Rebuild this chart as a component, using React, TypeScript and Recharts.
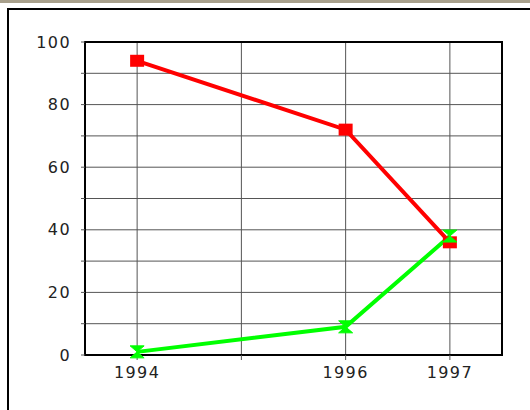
import { LineChart, Line, XAxis, YAxis, CartesianGrid, ReferenceArea } from "recharts";

const years = [1994, 1996, 1997];
const redValues = [94, 72, 36];
const greenValues = [1, 9, 38];
const xTicks = [1994, 1995, 1996, 1997];
const yTicks = [0, 10, 20, 30, 40, 50, 60, 70, 80, 90, 100];

const data = years.map((year, i) => ({
  year,
  red: redValues[i],
  green: greenValues[i],
}));

const font = "'DejaVu Sans', Arial, sans-serif";
const tickStyle = { fill: "#222", fontSize: 16, fontFamily: font, letterSpacing: 1.4 };

function SquareDot(props: any) {
  const { cx, cy } = props;
  if (cx == null || cy == null) return null;
  return <rect x={cx - 7} y={cy - 6} width={14} height={12} fill="#ff0000" />;
}

function HourglassDot(props: any) {
  const { cx, cy } = props;
  if (cx == null || cy == null) return null;
  const w = 7;
  const h = 6;
  return (
    <path
      d={`M${cx - w},${cy - h} L${cx + w},${cy - h} L${cx},${cy} Z M${cx - w},${cy + h} L${cx + w},${cy + h} L${cx},${cy} Z`}
      fill="#00ff00"
      stroke="#00ff00"
      strokeWidth={1}
    />
  );
}

export default function App() {
  return (
    <div
      style={{
        position: "absolute",
        left: 0,
        top: 0,
        width: 530,
        height: 410,
        background: "#fff",
        overflow: "hidden",
      }}
    >
      <div style={{ position: "absolute", left: 0, top: 0, width: 530, height: 3, background: "#a8a08c" }} />
      <div
        style={{
          position: "absolute",
          left: 7,
          top: 8,
          width: 540,
          height: 420,
          borderTop: "2px solid #000",
          borderLeft: "2px solid #000",
        }}
      />
      <LineChart
        width={530}
        height={410}
        data={data}
        margin={{ top: 42, right: 28, bottom: 0, left: 0 }}
        style={{ position: "absolute", left: 0, top: 0, fontFamily: font }}
      >
        <CartesianGrid stroke="#555" strokeWidth={1} horizontalValues={yTicks} verticalValues={xTicks} />
        <XAxis
          dataKey="year"
          type="number"
          domain={[1993.5, 1997.5]}
          ticks={xTicks}
          tickFormatter={(v: number) => (v === 1995 ? "" : String(v))}
          height={55}
          axisLine={{ stroke: "#000", strokeWidth: 2 }}
          tickLine={{ stroke: "#555" }}
          tickSize={5}
          tickMargin={7}
          tick={tickStyle}
        />
        <YAxis
          type="number"
          domain={[0, 100]}
          ticks={yTicks}
          tickFormatter={(v: number) => (v % 20 === 0 ? String(v) : "")}
          width={85}
          axisLine={{ stroke: "#000", strokeWidth: 2 }}
          tickLine={{ stroke: "#555" }}
          tickSize={4}
          tickMargin={10}
          interval={0}
          tick={tickStyle}
        />
        <ReferenceArea
          x1={1993.5}
          x2={1997.5}
          y1={0}
          y2={100}
          fill="none"
          fillOpacity={0}
          stroke="#000"
          strokeWidth={2}
          ifOverflow="visible"
        />
        <Line
          type="linear"
          dataKey="red"
          stroke="#ff0000"
          strokeWidth={4}
          dot={<SquareDot />}
          activeDot={false}
          isAnimationActive={false}
        />
        <Line
          type="linear"
          dataKey="green"
          stroke="#00ff00"
          strokeWidth={4}
          dot={<HourglassDot />}
          activeDot={false}
          isAnimationActive={false}
        />
      </LineChart>
    </div>
  );
}
